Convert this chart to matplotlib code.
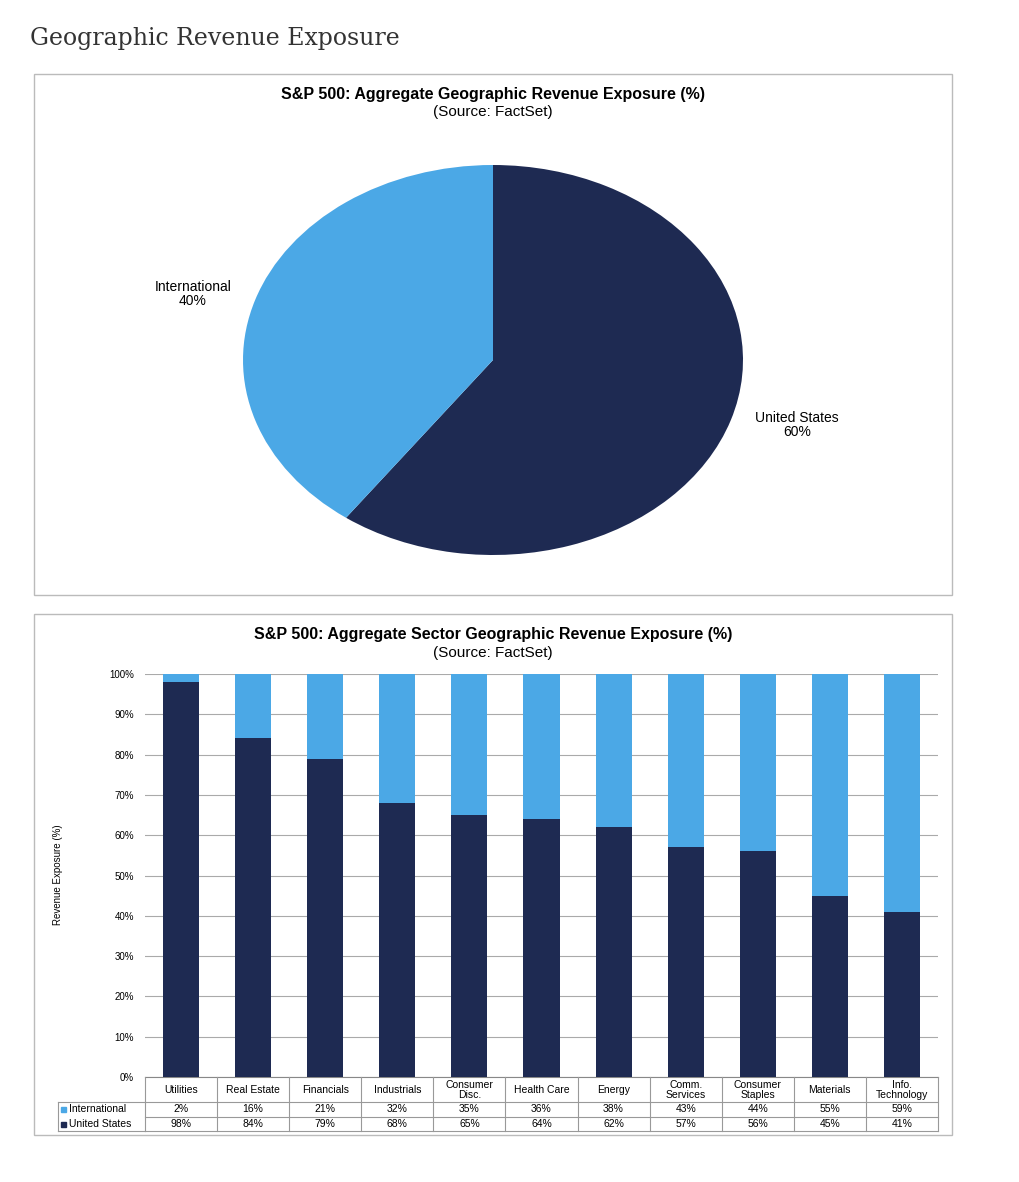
import matplotlib.pyplot as plt
from matplotlib.patches import Rectangle

# Data
pie_labels = ["United States", "International"]
pie_values = [60, 40]
sectors = ["Utilities", "Real Estate", "Financials", "Industrials", "Consumer\nDisc.",
           "Health Care", "Energy", "Comm.\nServices", "Consumer\nStaples", "Materials",
           "Info.\nTechnology"]
intl = [2, 16, 21, 32, 35, 36, 38, 43, 44, 55, 59]
us = [98, 84, 79, 68, 65, 64, 62, 57, 56, 45, 41]

dark = "#1E2A52"
light = "#4BA8E6"
W, H = 1020, 1182

fig = plt.figure(figsize=(10.2, 11.82), dpi=100)
plt.rcParams['font.family'] = ['Liberation Sans', 'DejaVu Sans']

def fx(px):
    return px / W

def fy(py):
    return 1 - py / H

fig.text(fx(30), fy(38), "Geographic Revenue Exposure", family="DejaVu Serif",
         fontsize=17, color="#333333", va="center")

# panel borders
for top, bot in [(74, 595), (614, 1135)]:
    fig.patches.append(Rectangle((fx(34), fy(bot)), fx(952 - 34), (bot - top) / H,
                                 transform=fig.transFigure, fill=False,
                                 edgecolor="#BBBBBB", lw=1))

# Pie chart
fig.text(fx(493), fy(94), "S&P 500: Aggregate Geographic Revenue Exposure (%)",
         ha="center", va="center", fontsize=11.5, weight="bold")
fig.text(fx(493), fy(112), "(Source: FactSet)", ha="center", va="center", fontsize=11)
ax1 = fig.add_axes([fx(243), fy(555), fx(500), 390 / H])
ax1.pie(pie_values, colors=[dark, light], startangle=90, counterclock=False,
        radius=1, wedgeprops=dict(linewidth=0))
ax1.set_aspect("auto")
ax1.set_xlim(-1, 1)
ax1.set_ylim(-1, 1)
fig.text(fx(797), fy(425), "United States\n60%", ha="center", va="center", fontsize=10,
         linespacing=1.0)
fig.text(fx(193), fy(294), "International\n40%", ha="center", va="center", fontsize=10,
         linespacing=1.0)

# Bar chart
fig.text(fx(493), fy(634), "S&P 500: Aggregate Sector Geographic Revenue Exposure (%)",
         ha="center", va="center", fontsize=11.5, weight="bold")
fig.text(fx(493), fy(653), "(Source: FactSet)", ha="center", va="center", fontsize=11)
ax2 = fig.add_axes([fx(145), fy(1077), fx(938 - 145), (1077 - 674) / H])
x = range(len(sectors))
ax2.bar(x, us, width=0.5, color=dark, zorder=3)
ax2.bar(x, intl, bottom=us, width=0.5, color=light, zorder=3)
ax2.set_xlim(-0.5, len(sectors) - 0.5)
ax2.set_ylim(0, 100)
ax2.set_yticks(range(0, 101, 10))
ax2.set_yticklabels([f"{v}%" for v in range(0, 101, 10)], fontsize=7)
ax2.yaxis.grid(True, color="#AAAAAA", lw=0.8, zorder=0)
ax2.set_xticks([])
ax2.tick_params(axis="y", length=0, pad=8)
for s in ["top", "right", "left"]:
    ax2.spines[s].set_visible(False)
ax2.spines["bottom"].set_color("#888888")
fig.text(fx(58), fy(875), "Revenue Exposure (%)", rotation=90, ha="center", va="center",
         fontsize=7, family="DejaVu Sans Condensed" if False else None)

# data table
rows_y = [1077, 1102, 1117, 1131]
tax = fig.add_axes([fx(145), fy(1131), fx(938 - 145), (1131 - 1077) / H])
tax.set_xlim(-0.5, len(sectors) - 0.5)
tax.set_ylim(1131, 1077)
tax.axis("off")
line_c = "#999999"
for i in range(len(sectors) + 1):
    tax.plot([i - 0.5, i - 0.5], [1077, 1131], color=line_c, lw=0.8, clip_on=False)
for yy in rows_y[1:]:
    tax.plot([-0.5, len(sectors) - 0.5], [yy, yy], color=line_c, lw=0.8, clip_on=False)
for i, name in enumerate(sectors):
    tax.text(i, 1090, name, ha="center", va="center", fontsize=7.5, linespacing=0.95)
    tax.text(i, 1109.5, f"{intl[i]}%", ha="center", va="center", fontsize=7.5)
    tax.text(i, 1124, f"{us[i]}%", ha="center", va="center", fontsize=7.5)
# row labels
fig.lines.append(plt.Line2D([fx(58), fx(145)], [fy(1102), fy(1102)], color=line_c, lw=0.8,
                            transform=fig.transFigure))
fig.lines.append(plt.Line2D([fx(58), fx(145)], [fy(1131), fy(1131)], color=line_c, lw=0.8,
                            transform=fig.transFigure))
fig.lines.append(plt.Line2D([fx(58), fx(58)], [fy(1102), fy(1131)], color=line_c, lw=0.8,
                            transform=fig.transFigure))
for yy, lab, c in [(1109.5, "International", light), (1124, "United States", dark)]:
    fig.patches.append(Rectangle((fx(61), fy(yy + 2.5)), fx(5), 5 / H, color=c,
                                 transform=fig.transFigure))
    fig.text(fx(69), fy(yy), lab, va="center", fontsize=7.5)

fig.savefig("out.png", dpi=100, facecolor="white")
